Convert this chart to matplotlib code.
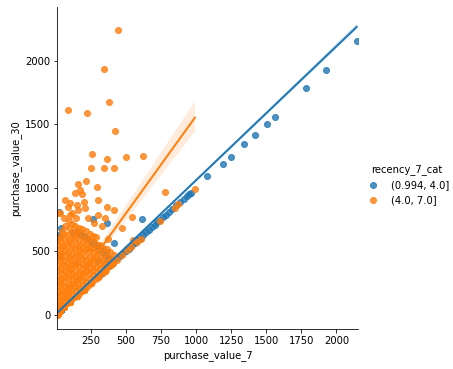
import numpy as np
import pandas as pd
import matplotlib
matplotlib.use("Agg")
import matplotlib.pyplot as plt
import seaborn as sns

# ---- recency_7_cat = (0.994, 4.0] ----
# many customers sit on purchase_value_30 == purchase_value_7 near the origin
blue_equal = [(12, 12), (20, 20), (28, 28), (36, 36)]
blue_equal_counts = [400, 400, 400, 400]
# blue points hidden under the orange cloud
blue_hidden = [(150, 650), (175, 640), (200, 620), (225, 600), (250, 580), (275, 560),
               (300, 540), (325, 510), (350, 480), (375, 450)]
blue_hidden_counts = [3, 3, 3, 3, 3, 3, 3, 3, 3, 3]
blue_spread = [(14, 616), (22, 807), (26, 629), (26, 458), (31, 472), (40, 686), (126, 642),
               (265, 757), (300, 430), (352, 406), (358, 492), (369, 721), (417, 564), (613, 752)]
blue_diag = [(320, 325), (350, 352), (380, 382), (410, 412), (440, 445), (460, 462), (480, 485),
             (500, 505), (520, 520), (545, 548), (565, 568), (585, 590), (605, 608), (625, 628),
             (645, 650), (665, 670), (685, 690), (705, 708), (725, 728), (745, 748), (765, 768),
             (785, 788), (809, 812), (830, 832), (860, 862), (887, 888), (915, 916), (935, 935),
             (953, 952), (963, 960)]
blue_high = [(1075, 1093), (1189, 1185), (1246, 1240), (1343, 1342), (1417, 1413), (1503, 1499),
             (1560, 1554), (1781, 1782), (1923, 1924), (2144, 2152)]

# ---- recency_7_cat = (4.0, 7.0] ----
orange_equal = [(10, 10), (15, 15), (30, 30), (60, 60), (100, 100), (150, 150), (200, 200),
                (250, 250), (300, 300), (350, 350), (400, 400)]
orange_equal_counts = [190, 190, 120, 80, 50, 30, 20, 12, 8, 5, 4]
orange_blob = [
    (14, 4), (20, 38), (16, 72), (22, 110), (15, 148), (19, 188), (14, 228), (21, 268), (16, 310),
    (18, 352), (14, 392), (20, 430), (15, 472), (22, 512), (17, 552), (14, 598),
    (38, 44), (44, 82), (40, 118), (36, 162), (45, 198), (41, 242), (37, 284), (43, 326), (39, 364),
    (46, 402), (40, 446), (36, 488), (44, 532), (41, 574), (38, 622), (45, 662),
    (63, 70), (68, 104), (62, 142), (70, 178), (66, 224), (61, 262), (69, 302), (64, 344), (67, 386),
    (62, 424), (70, 466), (65, 506), (63, 546), (68, 592), (62, 640), (66, 702),
    (88, 92), (94, 132), (90, 168), (86, 212), (95, 248), (91, 292), (87, 330), (93, 372), (89, 410),
    (96, 454), (90, 496), (85, 542), (94, 584), (88, 632), (92, 682), (97, 742),
    (113, 118), (118, 162), (112, 198), (117, 246), (114, 284), (119, 322), (111, 362), (116, 398),
    (113, 442), (120, 478), (115, 526), (112, 568), (118, 612), (114, 656), (119, 718),
    (138, 142), (143, 186), (137, 224), (142, 266), (139, 306), (145, 344), (136, 392), (141, 428),
    (144, 472), (138, 516), (142, 558), (137, 602), (146, 652), (140, 702), (143, 760),
    (163, 166), (168, 212), (162, 248), (167, 292), (164, 334), (169, 382), (161, 418), (166, 462),
    (163, 504), (170, 546), (165, 592), (162, 642), (168, 688),
    (188, 190), (193, 236), (187, 274), (192, 322), (189, 358), (195, 402), (186, 444), (191, 492),
    (188, 528), (194, 576), (190, 622), (187, 678),
    (213, 214), (218, 262), (212, 298), (217, 346), (214, 388), (219, 432), (211, 468), (216, 516),
    (213, 562), (218, 608), (214, 662),
    (238, 238), (243, 286), (237, 328), (242, 372), (239, 408), (244, 456), (236, 502), (241, 538),
    (238, 592), (243, 638),
    (262, 262), (268, 312), (263, 354), (267, 402), (264, 444), (269, 492), (261, 528), (266, 582),
    (263, 618),
    (287, 286), (293, 336), (288, 378), (292, 426), (289, 468), (294, 516), (286, 558), (291, 612),
    (312, 310), (318, 362), (313, 404), (317, 452), (314, 498), (319, 552),
    (337, 334), (343, 386), (338, 428), (342, 482), (339, 528),
    (362, 358), (368, 412), (363, 458), (367, 522),
    (387, 382), (393, 442), (389, 498),
    (412, 406), (417, 472),
    (436, 430),
]
orange_spread = [(12, 800), (31, 800), (60, 760), (67, 904), (90, 852), (100, 786), (102, 878),
                 (120, 800), (138, 957), (150, 865), (157, 1032), (162, 825), (174, 983), (190, 951),
                 (200, 888), (209, 838), (219, 1051), (230, 760), (270, 720), (297, 1004), (300, 902),
                 (304, 786), (330, 700), (352, 760), (364, 852), (376, 597), (418, 825), (471, 681),
                 (547, 768), (554, 590)]
orange_outliers = [(447, 2238), (345, 1931), (381, 1672), (90, 1612), (226, 1586), (426, 1444),
                   (262, 1263), (364, 1224), (504, 1240), (625, 1248), (252, 1153), (347, 1153),
                   (418, 1153), (782, 965)]
orange_diag = [(476, 470), (511, 508), (540, 535), (580, 575), (607, 595), (742, 739), (847, 844),
               (875, 870), (992, 988)]

categories = ["(0.994, 4.0]", "(4.0, 7.0]"]
colors = ["#1f77b4", "#ff7f0e"]
band_ci = [50, 80]


def expand(points, counts):
    return [p for p, n in zip(points, counts) for _ in range(n)]


groups = {
    categories[0]: (expand(blue_equal, blue_equal_counts) + expand(blue_hidden, blue_hidden_counts)
                    + blue_spread + blue_diag + blue_high),
    categories[1]: (expand(orange_equal, orange_equal_counts) + orange_blob + orange_spread
                    + orange_outliers + orange_diag),
}
frames = []
for cat, pts in groups.items():
    d = pd.DataFrame(pts, columns=["purchase_value_7", "purchase_value_30"])
    d["recency_7_cat"] = cat
    frames.append(d)
df = pd.concat(frames, ignore_index=True)

fig = plt.figure(figsize=(453 / 72, 369 / 72), dpi=72)
ax = fig.add_axes([57.3 / 453, 1 - 329.3 / 369, 300.4 / 453, 322 / 369])

for cat, c, ci in zip(categories, colors, band_ci):
    sub = df[df["recency_7_cat"] == cat]
    sns.regplot(data=sub, x="purchase_value_7", y="purchase_value_30", ax=ax, color=c,
                ci=ci, seed=0, scatter_kws={"s": 36}, line_kws={"lw": 2})

ax.set_xlim(12, 2151)
ax.set_ylim(-112, 2420)
ax.set_xticks([250, 500, 750, 1000, 1250, 1500, 1750, 2000])
ax.set_yticks([0, 500, 1000, 1500, 2000])
ax.spines["top"].set_visible(False)
ax.spines["right"].set_visible(False)
ax.set_xlabel("purchase_value_7")
ax.set_ylabel("purchase_value_30")

handles = [plt.Line2D([], [], marker="o", ls="", color=c, alpha=0.8, markersize=6) for c in colors]
fig.legend(handles, categories, title="recency_7_cat", frameon=False, borderaxespad=0,
           loc="center left", bbox_to_anchor=(359.3 / 453, 1 - 185 / 369))

fig.savefig("out.png", dpi=72)
